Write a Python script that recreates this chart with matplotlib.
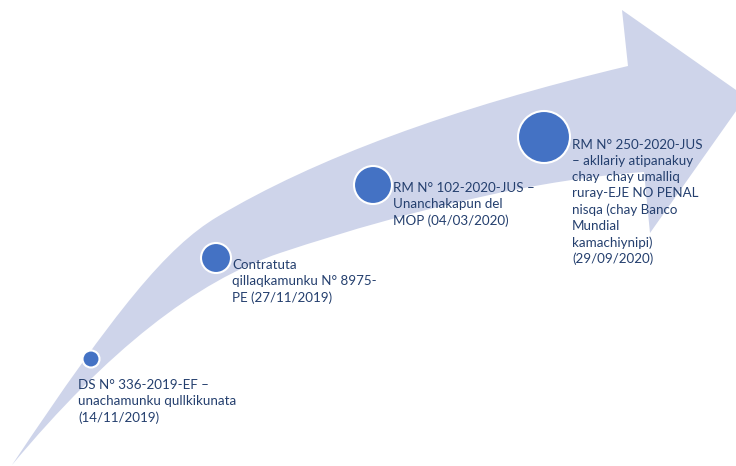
import matplotlib.pyplot as plt
from matplotlib.path import Path
from matplotlib.patches import PathPatch, Circle

# timeline events (oldest -> newest)
labels = [
    "DS N° 336-2019-EF –\nunachamunku qullkikunata\n(14/11/2019)",
    "Contratuta\nqillaqkamunku N° 8975-\nPE (27/11/2019)",
    "RM N° 102-2020-JUS –\nUnanchakapun del\nMOP (04/03/2020)",
    "RM N° 250-2020-JUS\n– akllariy atipanakuy\nchay  chay umalliq\nruray-EJE NO PENAL\nnisqa (chay Banco\nMundial\nkamachiynipi)\n(29/09/2020)",
]

# layout in pixel coords (origin top-left)
dot_x = [91, 216, 373, 544]
dot_y = [359, 258, 185, 137]
dot_r = [8.5, 15, 19, 26]
text_x = [78, 232, 393, 572]
text_y = [379, 259, 182, 139]

W, H = 736, 466
band_color = "#CED4EA"
dot_color = "#4472C4"
text_color = "#243F6E"

fig = plt.figure(figsize=(W / 100, H / 100), dpi=100)
ax = fig.add_axes([0, 0, 1, 1])
ax.set_xlim(0, W)
ax.set_ylim(H, 0)
ax.axis("off")

# swoosh arrow outline
verts = [
    (12, 465),
    (116, 309), (167, 247), (217, 217),       # upper edge, tail part
    (314, 159), (451, 108), (628, 66),        # upper edge, to notch
    (622, 10),                                # head top
    (746, 97),                                # head tip
    (650, 233),                               # head bottom
    (644, 172),                               # lower notch
    (544, 179), (422, 206), (280, 253),       # lower edge
    (196, 281), (107, 351), (12, 465),        # lower edge, back to tail
]
codes = [Path.MOVETO,
         Path.CURVE4, Path.CURVE4, Path.CURVE4,
         Path.CURVE4, Path.CURVE4, Path.CURVE4,
         Path.LINETO, Path.LINETO, Path.LINETO, Path.LINETO,
         Path.CURVE4, Path.CURVE4, Path.CURVE4,
         Path.CURVE4, Path.CURVE4, Path.CURVE4]
ax.add_patch(PathPatch(Path(verts, codes), facecolor=band_color,
                       edgecolor="none", zorder=1))

for x, y, r in zip(dot_x, dot_y, dot_r):
    ax.add_patch(Circle((x, y), r, facecolor=dot_color, edgecolor="white",
                        linewidth=1.5, zorder=2))

for x, y, s in zip(text_x, text_y, labels):
    ax.text(x, y, s, ha="left", va="top", fontsize=9.6, family="Lato",
            color=text_color, linespacing=1.4, zorder=3)

fig.savefig("out.png", dpi=100)
